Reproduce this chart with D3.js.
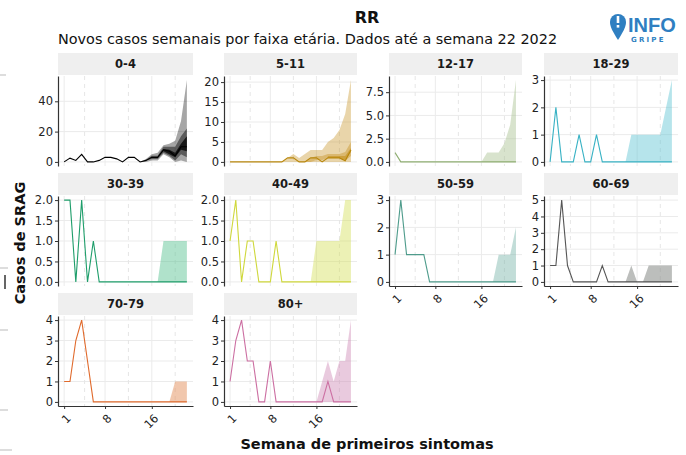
<!DOCTYPE html>
<html><head><meta charset="utf-8">
<script src="https://cdn.jsdelivr.net/npm/d3@7"></script>
<style>body{margin:0;background:#fff}svg{display:block;font-family:"DejaVu Sans",sans-serif}</style>
</head><body><svg id="c" width="686" height="455"></svg>
<script>
// ---------- data ----------
const weeks = [1,2,3,4,5,6,7,8,9,10,11,12,13,14,15,16,17,18,19,20,21,22];
const ageGroups = ["0-4","5-11","12-17","18-29","30-39","40-49","50-59","60-69","70-79","80+"];
const xTicks = [1,8,16];
const xMinor = [4.5,12,20];

// observed line per age group (weeks 1..22)
const line04   = [0,2.5,1,5,0,0,1,3,3,2,0,3,3,0,1,3,3,8,7,4,10,10];
const line511  = [0,0,0,0,0,0,0,0,0,0,1,1,0,0,1,1,0,1,1,1,0.3,3];
const line1217 = [1,0,0,0,0,0,0,0,0,0,0,0,0,0,0,0,0,0,0,0,0,0];
const line1829 = [0,2,0,0,0,1,0,0,1,0,0,0,0,0,0,0,0,0,0,0,0,0];
const line3039 = [2,2,0,2,0,1,0,0,0,0,0,0,0,0,0,0,0,0,0,0,0,0];
const line4049 = [1,2,0,1,1,0,0,0,1,0,0,0,0,0,0,0,0,0,0,0,0,0];
const line5059 = [1,3,1,1,1,1,0,0,0,0,0,0,0,0,0,0,0,0,0,0,0,0];
const line6069 = [1,1,5,1,0,0,0,0,0,1,0,0,0,0,0,0,0,0,0,0,0,0];
const line7079 = [1,1,3,4,2,0,0,0,0,0,0,0,0,0,0,0,0,0,0,0,0,0];
const line80   = [1,3,4,2,2,0,0,2,0,0,0,0,0,0,0,0,0,1,0,0,0,0];

// nowcast bands (null = no band that week)
const n = null;
const band04OuterLo = [n,n,n,n,n,n,n,n,n,n,n,n,n,0,0,1,1,5,3,0,1,0];
const band04OuterHi = [n,n,n,n,n,n,n,n,n,n,n,n,n,0,2,5,6,11,12,14,27,54];
const band04MidLo   = [n,n,n,n,n,n,n,n,n,n,n,n,n,n,1,2,2,6,4,1,5,3];
const band04MidHi   = [n,n,n,n,n,n,n,n,n,n,n,n,n,n,1.5,4,4,10,10,10,17,22];
const band04InLo    = [n,n,n,n,n,n,n,n,n,n,n,n,n,n,n,3,3,7,5,3,8,7];
const band04InHi    = [n,n,n,n,n,n,n,n,n,n,n,n,n,n,n,3,3,8.5,8,6,12,17];

const band511OuterLo = [n,n,n,n,n,n,n,n,n,0,0,0,0,0,0,0,0,0,0,0,0,0];
const band511OuterHi = [n,n,n,n,n,n,n,n,n,0,1,2,1,2,3,3,3,5,6,8,12,20.5];
const band511MidLo   = [n,n,n,n,n,n,n,n,n,n,n,n,n,0,0,0.5,0.5,1,1,1,0.3,1.5];
const band511MidHi   = [n,n,n,n,n,n,n,n,n,n,n,n,n,0,1,1.5,1.5,2,2,2,2.5,5];
const band511InLo    = [n,n,n,n,n,n,n,n,n,n,n,n,n,n,n,n,n,1,1,1,0.5,2.5];
const band511InHi    = [n,n,n,n,n,n,n,n,n,n,n,n,n,n,n,n,n,1.5,1.5,1.5,1.5,3.5];

const band1217Hi = [n,n,n,n,n,n,n,n,n,n,n,n,n,n,n,0,1,1,1,2,4,8.8];
const band1829Hi = [n,n,n,n,n,n,n,n,n,n,n,n,n,0,1,1,1,1,1,1,2,3];
const band3039Hi = [n,n,n,n,n,n,n,n,n,n,n,n,n,n,n,n,0,1,1,1,1,1];
const band4049Hi = [n,n,n,n,n,n,n,n,n,n,n,n,n,n,0,1,1,1,1,1,2,2];
const band5059Hi = [n,n,n,n,n,n,n,n,n,n,n,n,n,n,n,n,n,0,1,1,1,2];
const band6069Hi = [n,n,n,n,n,n,n,n,n,n,n,n,n,0,1,0,0,1,1,1,1,1];
const band7079Hi = [n,n,n,n,n,n,n,n,n,n,n,n,n,n,n,n,n,n,0,1,1,1];
const band80Hi   = [n,n,n,n,n,n,n,n,n,n,n,n,n,n,n,0,1,2,1,2,2,4];

const yTicks04 = [0,20,40];
const yTicks511 = [0,5,10,15,20];
const yTicks1217 = [0,2.5,5,7.5];
const yTicks0to3 = [0,1,2,3];
const yTicks0to2 = [0,0.5,1,1.5,2];
const yTicks0to5 = [0,1,2,3,4,5];
const yTicks0to4 = [0,1,2,3,4];

const lineColors = ["#000000","#b8860b","#8fae72","#38b2c4","#1f9e6b","#cfd83c","#4f9c8c","#555555","#e06a2c","#cc6fa2"];
const bandColors = ["#000000","#c8952a","#a9c190","#5ec3d3","#4fbf8c","#d5df5c","#78b3a9","#8f938f","#e38f5c","#cf8ab5"];

// ---------- layout ----------
const svg = d3.select("#c");
svg.append("rect").attr("width",686).attr("height",455).attr("fill","#fff");
const colX = [58,224,389,544], colW = [135,133,133,134];
const rowY = [76,196,316], PH = 90, STRIP = 22;

const zeros = weeks.map(()=>0);
const panels = [
  {name:ageGroups[0], line:line04, ticks:yTicks04, fmt:d3.format("d"), bands:[
    {lo:band04OuterLo, hi:band04OuterHi, op:0.35},{lo:band04MidLo, hi:band04MidHi, op:0.45},{lo:band04InLo, hi:band04InHi, op:0.75}]},
  {name:ageGroups[1], line:line511, ticks:yTicks511, fmt:d3.format("d"), bands:[
    {lo:band511OuterLo, hi:band511OuterHi, op:0.4},{lo:band511MidLo, hi:band511MidHi, op:0.45},{lo:band511InLo, hi:band511InHi, op:0.7}]},
  {name:ageGroups[2], line:line1217, ticks:yTicks1217, fmt:d3.format(".1f"), bands:[{lo:zeros, hi:band1217Hi, op:0.45}]},
  {name:ageGroups[3], line:line1829, ticks:yTicks0to3, fmt:d3.format("d"), bands:[{lo:zeros, hi:band1829Hi, op:0.45}]},
  {name:ageGroups[4], line:line3039, ticks:yTicks0to2, fmt:d3.format(".1f"), bands:[{lo:zeros, hi:band3039Hi, op:0.45}]},
  {name:ageGroups[5], line:line4049, ticks:yTicks0to2, fmt:d3.format(".1f"), bands:[{lo:zeros, hi:band4049Hi, op:0.45}]},
  {name:ageGroups[6], line:line5059, ticks:yTicks0to3, fmt:d3.format("d"), bands:[{lo:zeros, hi:band5059Hi, op:0.45}]},
  {name:ageGroups[7], line:line6069, ticks:yTicks0to5, fmt:d3.format("d"), bands:[{lo:zeros, hi:band6069Hi, op:0.6}]},
  {name:ageGroups[8], line:line7079, ticks:yTicks0to4, fmt:d3.format("d"), bands:[{lo:zeros, hi:band7079Hi, op:0.5}]},
  {name:ageGroups[9], line:line80, ticks:yTicks0to4, fmt:d3.format("d"), bands:[{lo:zeros, hi:band80Hi, op:0.45}]},
];

panels.forEach((p,i)=>{
  const col = i%4, row = Math.floor(i/4);
  const x0 = colX[col], w = colW[col], y0 = rowY[row];
  const isBottom = (row===2) || (row===1 && col>=2);
  let maxV = d3.max(p.line);
  p.bands.forEach(b=>{ maxV = Math.max(maxV, d3.max(b.hi.filter(v=>v!==null))); });
  const x = d3.scaleLinear().domain([1-1.05, 22+1.05]).range([x0, x0+w]);
  const y = d3.scaleLinear().domain([-0.05*maxV, 1.05*maxV]).range([y0+PH, y0]);
  const g = svg.append("g");
  // strip
  g.append("rect").attr("x",x0).attr("y",y0-STRIP-1).attr("width",w).attr("height",STRIP).attr("fill","#efefef");
  g.append("text").attr("x",x0+w/2).attr("y",y0-STRIP/2+3).attr("text-anchor","middle")
    .attr("font-size",11.5).attr("font-weight","bold").attr("fill","#1a1a1a").text(p.name);
  // grid
  g.selectAll(".hg").data(p.ticks).join("line").attr("x1",x0).attr("x2",x0+w)
    .attr("y1",d=>y(d)).attr("y2",d=>y(d)).attr("stroke","#ebebeb").attr("stroke-width",1);
  g.selectAll(".vg").data(xTicks).join("line").attr("y1",y0).attr("y2",y0+PH)
    .attr("x1",d=>x(d)).attr("x2",d=>x(d)).attr("stroke","#ebebeb").attr("stroke-width",1);
  g.selectAll(".vm").data(xMinor).join("line").attr("y1",y0).attr("y2",y0+PH)
    .attr("x1",d=>x(d)).attr("x2",d=>x(d)).attr("stroke","#e6e6e6").attr("stroke-width",1).attr("stroke-dasharray","4,4");
  // bands
  const fillC = i===0 ? "#000" : bandColors[i];
  p.bands.forEach(b=>{
    const area = d3.area().defined((d,k)=>b.hi[k]!==null && b.lo[k]!==null)
      .x((d,k)=>x(weeks[k])).y0((d,k)=>y(b.lo[k]===null?0:b.lo[k])).y1((d,k)=>y(b.hi[k]===null?0:b.hi[k]));
    g.append("path").datum(weeks).attr("d",area).attr("fill",fillC).attr("fill-opacity",b.op);
  });
  // line
  const ln = d3.line().x((d,k)=>x(weeks[k])).y(d=>y(d));
  g.append("path").datum(p.line).attr("d",ln).attr("fill","none").attr("stroke",lineColors[i]).attr("stroke-width",1.1);
  // y axis
  const ya = g.append("g").attr("transform",`translate(${x0},0)`)
    .call(d3.axisLeft(y).tickValues(p.ticks).tickFormat(p.fmt).tickSize(3).tickPadding(2).tickSizeOuter(0));
  ya.select(".domain").attr("stroke","#333").attr("stroke-width",1.2);
  ya.selectAll(".tick line").attr("stroke","#333");
  ya.selectAll("text").attr("font-size",11.5).attr("fill","#222").attr("font-family","DejaVu Sans");
  if(isBottom){
    const xa = g.append("g").attr("transform",`translate(0,${y0+PH})`)
      .call(d3.axisBottom(x).tickValues(xTicks).tickFormat(d3.format("d")).tickSize(3).tickSizeOuter(0));
    xa.select(".domain").attr("stroke","#333").attr("stroke-width",1.2);
    xa.selectAll(".tick line").attr("stroke","#333");
    xa.selectAll("text").attr("font-size",11.5).attr("fill","#222").attr("font-family","DejaVu Sans")
      .attr("text-anchor","end").attr("dy",null).attr("y",null)
      .attr("transform","translate(7,13) rotate(-45)");
  }
});

// titles
svg.append("text").attr("x",367).attr("y",23).attr("text-anchor","middle").attr("font-size",16)
  .attr("font-weight","bold").attr("fill","#111").text("RR");
svg.append("text").attr("x",58).attr("y",44).attr("font-size",14.4).attr("fill","#111")
  .text("Novos casos semanais por faixa etária. Dados até a semana 22 2022");
svg.append("text").attr("x",367).attr("y",449).attr("text-anchor","middle").attr("font-size",14.5)
  .attr("font-weight","bold").attr("fill","#111").text("Semana de primeiros sintomas");
svg.append("text").attr("transform","translate(25,243) rotate(-90)").attr("text-anchor","middle")
  .attr("font-size",14.5).attr("font-weight","bold").attr("fill","#111").text("Casos de SRAG");

// logo
const lg = svg.append("g");
lg.append("path").attr("d","M618,40 C613,32 610,27 610,22 A8,8 0 0 1 626,22 C626,27 623,32 618,40 Z").attr("fill","#2f7fc1");
lg.append("rect").attr("x",616.7).attr("y",16).attr("width",2.6).attr("height",7).attr("fill","#fff");
lg.append("rect").attr("x",616.7).attr("y",25).attr("width",2.6).attr("height",2.6).attr("fill","#fff");
lg.append("text").attr("x",628).attr("y",32).attr("font-size",20).attr("font-weight","bold").attr("fill","#2f7fc1")
  .attr("font-family","Liberation Sans Narrow, sans-serif").text("INFO");
lg.append("text").attr("x",631).attr("y",41.5).attr("font-size",7).attr("font-weight","bold").attr("fill","#2f7fc1")
  .attr("letter-spacing",2.2).text("GRIPE");

// faint edge marks
const edge = [[0,75,6,75],[0,268,8,268],[0,330,8,330],[0,410,8,410],[0,450,12,450]];
svg.selectAll(".em").data(edge).join("line").attr("x1",d=>d[0]).attr("y1",d=>d[1]).attr("x2",d=>d[2]).attr("y2",d=>d[3])
  .attr("stroke","#bbb").attr("stroke-width",1);
svg.append("line").attr("x1",5).attr("x2",5).attr("y1",275).attr("y2",289).attr("stroke","#333").attr("stroke-width",1.5);
</script></body></html>
